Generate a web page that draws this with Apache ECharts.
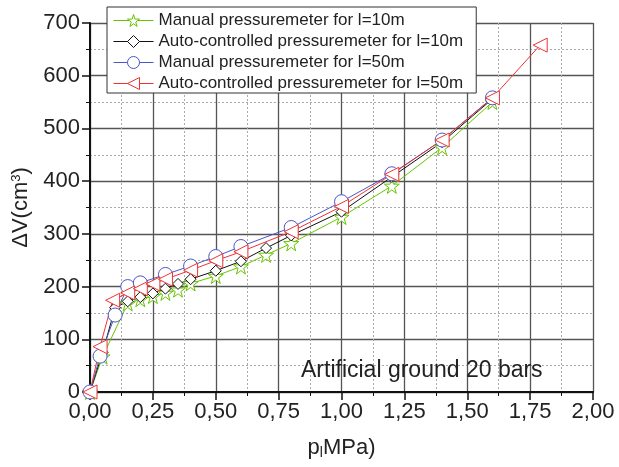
<!DOCTYPE html>
<html>
<head>
<meta charset="utf-8">
<script src="https://cdn.jsdelivr.net/npm/echarts@6/dist/echarts.min.js"></script>
<style>
  html, body { margin: 0; padding: 0; background: #fff; }
  #chart { width: 619px; height: 467px; }
</style>
</head>
<body>
<div id="chart"></div>
<script>
// pressure p_l (MPa) and volume change dV (cm3)
const manual10X = [0, 0.05, 0.15, 0.2, 0.25, 0.3, 0.35, 0.4, 0.5, 0.6, 0.7, 0.8, 1.0, 1.2, 1.4, 1.6];
const manual10Y = [0, 67, 168, 176, 182, 188, 194, 206, 220, 238, 260, 282, 332, 391, 464, 550];

const auto10X = [0, 0.05, 0.1, 0.15, 0.2, 0.25, 0.3, 0.35, 0.4, 0.5, 0.6, 0.7, 0.8, 1.0, 1.2, 1.4, 1.6];
const auto10Y = [0, 75, 160, 172, 180, 187, 196, 205, 214, 230, 248, 273, 297, 342, 408, 474, 556];

const manual50X = [0, 0.04, 0.1, 0.15, 0.2, 0.3, 0.4, 0.5, 0.6, 0.8, 1.0, 1.2, 1.4, 1.6];
const manual50Y = [0, 68, 146, 200, 207, 223, 239, 257, 276, 312, 361, 414, 478, 558];

const auto50X = [0, 0.04, 0.09, 0.15, 0.2, 0.25, 0.3, 0.4, 0.5, 0.6, 0.8, 1.0, 1.2, 1.4, 1.6, 1.79];
const auto50Y = [0, 86, 174, 188, 196, 205, 214, 231, 249, 266, 304, 352, 413, 478, 558, 658];

const xTickLabels = ["0,00", "0,25", "0,50", "0,75", "1,00", "1,25", "1,50", "1,75", "2,00"];

const STAR = "path://M50,0 L61,35 L98,35 L68,57 L79,91 L50,70 L21,91 L32,57 L2,35 L39,35 Z";
const FONT = "'Liberation Sans', Arial, sans-serif";

const GREEN = "#66c400";
const BLACK = "#111";
const BLUE = "#4a55c8";
const RED = "#ee3333";

const pairs = (xs, ys) => xs.map((x, i) => [x, ys[i]]);

const mkSeries = (name, xs, ys, color, symbol, size, rotate) => ({
  name: name,
  type: "line",
  data: pairs(xs, ys),
  symbol: symbol,
  symbolSize: size,
  symbolRotate: rotate || 0,
  showSymbol: true,
  lineStyle: { color: color, width: 1 },
  itemStyle: { color: "#fff", borderColor: color, borderWidth: 1 },
  emphasis: { disabled: true },
});

const legendItem = (name, color) => ({
  name: name,
  itemStyle: { color: "#fff", borderColor: color, borderWidth: 1 },
  lineStyle: { color: color, width: 1 },
});

const chart = echarts.init(document.getElementById("chart"));

const option = {
  backgroundColor: "#fff",
  animation: false,
  grid: { left: 90, right: 26, top: 23, bottom: 75 },
  legend: {
    left: 107,
    top: 7,
    orient: "vertical",
    backgroundColor: "#fff",
    borderColor: "#333",
    borderWidth: 1,
    borderRadius: 0,
    padding: [5, 13, 1, 6],
    itemGap: 4,
    itemWidth: 40,
    itemHeight: 15,
    textStyle: { fontFamily: FONT, fontSize: 17, color: "#222" },
    data: [
      legendItem("Manual pressuremeter for l=10m", GREEN),
      legendItem("Auto-controlled pressuremeter for l=10m", BLACK),
      legendItem("Manual pressuremeter for l=50m", BLUE),
      legendItem("Auto-controlled pressuremeter for l=50m", RED),
    ],
    z: 10,
  },
  xAxis: {
    type: "value",
    min: 0,
    max: 2,
    interval: 0.25,
    name: "{p|p}{s|l}{p|MPa)}",
    nameLocation: "middle",
    nameGap: 44,
    nameTextStyle: {
      rich: {
        p: { fontFamily: FONT, fontSize: 22, color: "#222" },
        s: { fontFamily: FONT, fontSize: 14, color: "#222", verticalAlign: "bottom", padding: [10, 0, 0, 0] },
      },
    },
    axisLine: { onZero: false, lineStyle: { color: "#111", width: 2 } },
    axisTick: { show: true, inside: false, length: 8, lineStyle: { color: "#111", width: 1.5 } },
    minorTick: { show: true, splitNumber: 2, length: 4, lineStyle: { color: "#111", width: 1 } },
    axisLabel: {
      fontFamily: FONT,
      fontSize: 22,
      color: "#222",
      margin: 9,
      formatter: (v) => xTickLabels[Math.round(v / 0.25)],
    },
    splitLine: { show: true, lineStyle: { color: "#555", width: 1.3 } },
    minorSplitLine: { show: true, lineStyle: { color: "#aaa", width: 1, type: [2, 2] } },
  },
  yAxis: {
    type: "value",
    min: 0,
    max: 700,
    interval: 100,
    name: "{p|ΔV(cm}{s|3}{p|)}",
    nameLocation: "middle",
    nameGap: 57,
    nameRotate: 90,
    nameTextStyle: {
      rich: {
        p: { fontFamily: FONT, fontSize: 22, color: "#222" },
        s: { fontFamily: FONT, fontSize: 13, color: "#222", verticalAlign: "top", padding: [0, 0, 10, 0] },
      },
    },
    axisLine: { onZero: false, lineStyle: { color: "#111", width: 2 } },
    axisTick: { show: true, inside: false, length: 8, lineStyle: { color: "#111", width: 1.5 } },
    minorTick: { show: true, splitNumber: 2, length: 4, lineStyle: { color: "#111", width: 1 } },
    axisLabel: { fontFamily: FONT, fontSize: 22, color: "#222", margin: 10 },
    splitLine: { show: true, lineStyle: { color: "#555", width: 1.3 } },
    minorSplitLine: { show: true, lineStyle: { color: "#aaa", width: 1, type: [2, 2] } },
  },
  graphic: [
    {
      type: "text",
      left: 301,
      top: 359,
      style: { text: "Artificial ground 20 bars", fontFamily: FONT, fontSize: 23, fill: "#222" },
      z: 20,
    },
  ],
  series: [
    mkSeries("Manual pressuremeter for l=10m", manual10X, manual10Y, GREEN, STAR, 15),
    mkSeries("Auto-controlled pressuremeter for l=10m", auto10X, auto10Y, BLACK, "diamond", 11),
    mkSeries("Manual pressuremeter for l=50m", manual50X, manual50Y, BLUE, "circle", 14),
    mkSeries("Auto-controlled pressuremeter for l=50m", auto50X, auto50Y, RED, "triangle", 14, 90),
  ],
};

chart.setOption(option);
</script>
</body>
</html>
